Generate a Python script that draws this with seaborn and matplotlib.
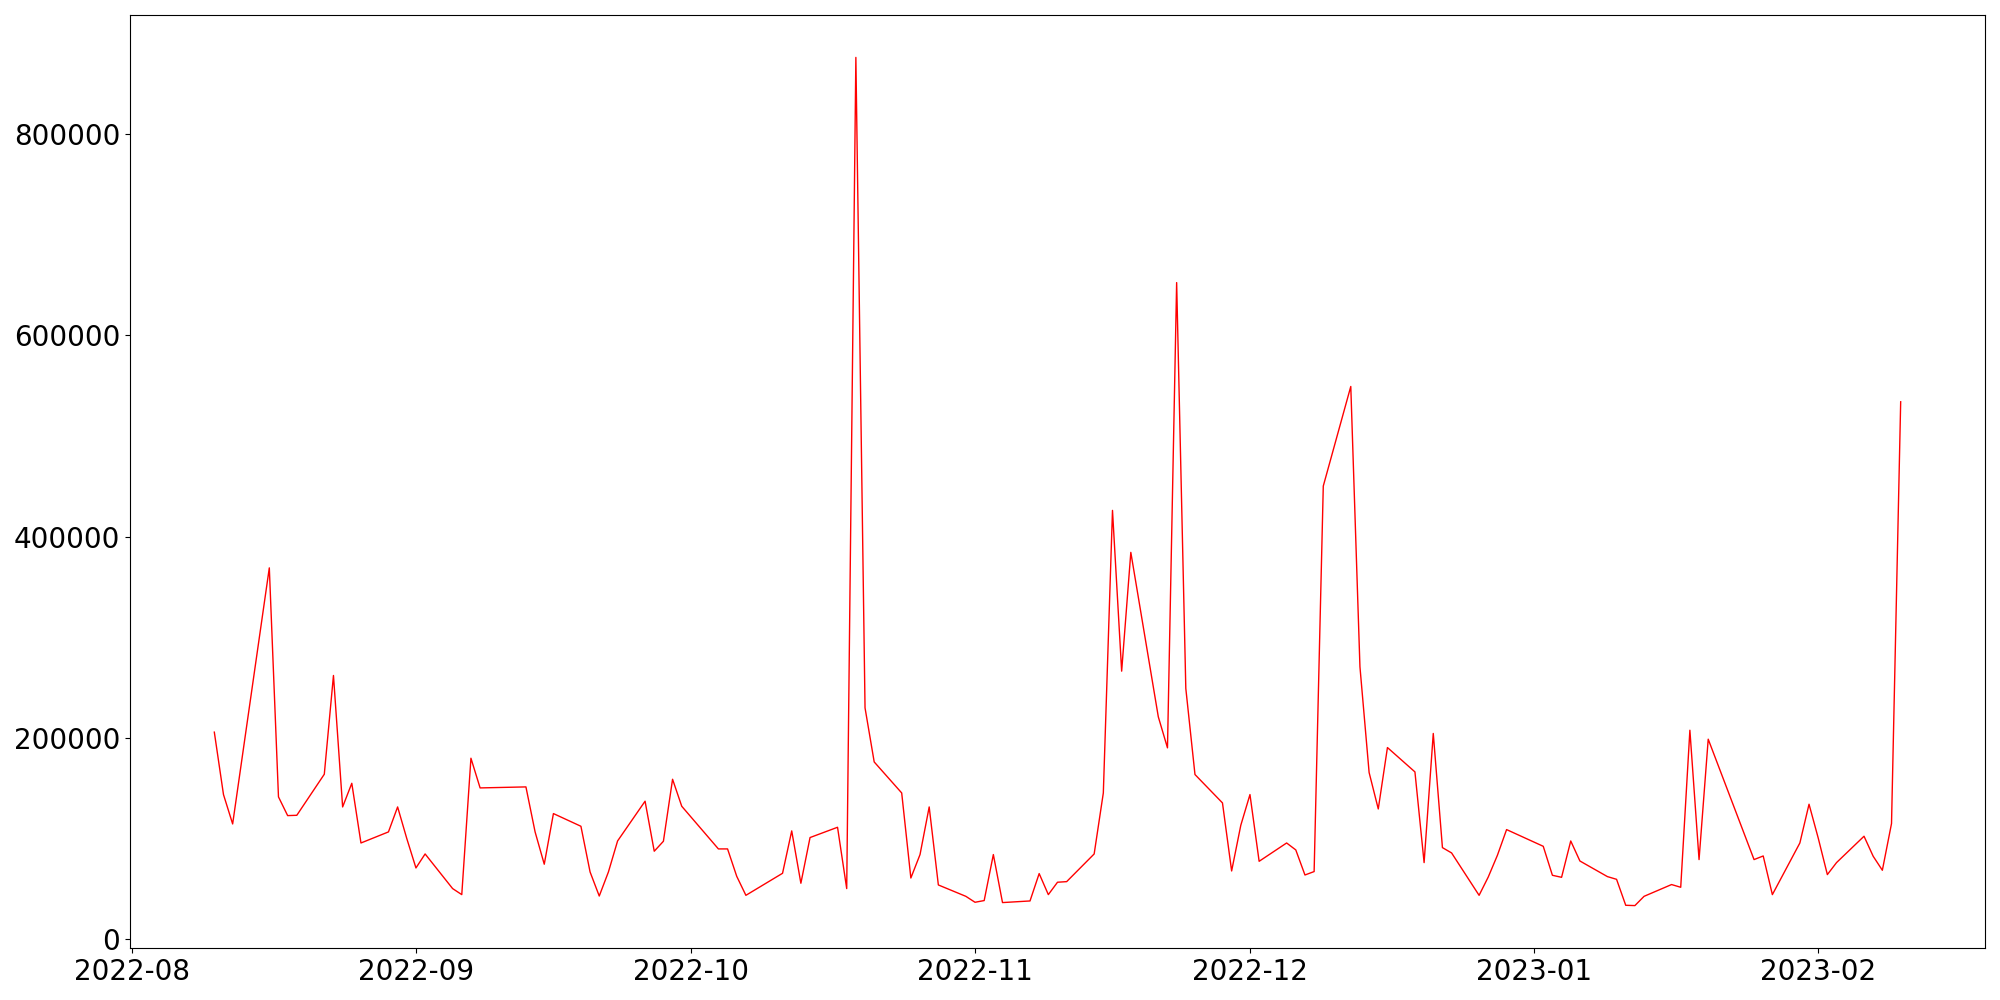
import matplotlib
matplotlib.use("Agg")
import matplotlib.pyplot as plt
import matplotlib.dates as mdates
import seaborn as sns
import pandas as pd

dates = [
    "2022-08-10", "2022-08-11", "2022-08-12", "2022-08-16", "2022-08-17", "2022-08-18", "2022-08-19",
    "2022-08-22", "2022-08-23", "2022-08-24", "2022-08-25", "2022-08-26",
    "2022-08-29", "2022-08-30", "2022-08-31", "2022-09-01", "2022-09-02",
    "2022-09-05", "2022-09-06", "2022-09-07", "2022-09-08",
    "2022-09-13", "2022-09-14", "2022-09-15", "2022-09-16",
    "2022-09-19", "2022-09-20", "2022-09-21", "2022-09-22", "2022-09-23",
    "2022-09-26", "2022-09-27", "2022-09-28", "2022-09-29", "2022-09-30",
    "2022-10-04", "2022-10-05", "2022-10-06", "2022-10-07",
    "2022-10-11", "2022-10-12", "2022-10-13", "2022-10-14",
    "2022-10-17", "2022-10-18", "2022-10-19", "2022-10-20", "2022-10-21",
    "2022-10-24", "2022-10-25", "2022-10-26", "2022-10-27", "2022-10-28",
    "2022-10-31", "2022-11-01", "2022-11-02", "2022-11-03", "2022-11-04",
    "2022-11-07", "2022-11-08", "2022-11-09", "2022-11-10", "2022-11-11",
    "2022-11-14", "2022-11-15", "2022-11-16", "2022-11-17", "2022-11-18",
    "2022-11-21", "2022-11-22", "2022-11-23", "2022-11-24", "2022-11-25",
    "2022-11-28", "2022-11-29", "2022-11-30", "2022-12-01", "2022-12-02",
    "2022-12-05", "2022-12-06", "2022-12-07", "2022-12-08", "2022-12-09",
    "2022-12-12", "2022-12-13", "2022-12-14", "2022-12-15", "2022-12-16",
    "2022-12-19", "2022-12-20", "2022-12-21", "2022-12-22", "2022-12-23",
    "2022-12-26", "2022-12-27", "2022-12-28", "2022-12-29",
    "2023-01-02", "2023-01-03", "2023-01-04", "2023-01-05", "2023-01-06",
    "2023-01-09", "2023-01-10", "2023-01-11", "2023-01-12", "2023-01-13",
    "2023-01-16", "2023-01-17", "2023-01-18", "2023-01-19", "2023-01-20",
    "2023-01-25", "2023-01-26", "2023-01-27",
    "2023-01-30", "2023-01-31", "2023-02-01", "2023-02-02", "2023-02-03",
    "2023-02-06", "2023-02-07", "2023-02-08", "2023-02-09", "2023-02-10",
]

values = [
    205800, 143800, 114600, 369000, 141500, 122900, 123200,
    164000, 262100, 131500, 155000, 95700,
    106700, 131500, 100100, 70900, 84800,
    50400, 44400, 179900, 150400,
    151400, 106700, 74600, 124900,
    112300, 66900, 43000, 66900, 97700,
    137200, 87500, 97400, 159000, 132200,
    89800, 89800, 62600, 43700,
    65600, 107700, 55700, 101100,
    111300, 50400, 876100, 229900, 176200,
    145400, 60900, 84200, 131500, 54000,
    42700, 36800, 38500, 84200, 36500,
    38100, 65300, 44400, 56700, 57300,
    84800, 145400, 426100, 266400, 384400,
    221000, 190200, 652400, 249200, 163700,
    135500, 67900, 113300, 143800, 77500,
    95700, 88800, 63900, 67300, 450300,
    549200, 270700, 165700, 129500, 190500,
    166300, 76200, 204500, 91100, 85800,
    43700, 61900, 83500, 109000,
    92400, 63600, 61600, 97700, 77800,
    62300, 59600, 33800, 33500, 42700,
    54400, 51700, 207700, 79200, 198800,
    79200, 82800, 44400,
    95700, 134200, 100700, 64300, 76200,
    102400, 82500, 68600, 115000, 534000,
]

df = pd.DataFrame({"date": pd.to_datetime(dates), "value": values})

plt.rcParams['font.family'] = ['DejaVu Sans']

fig, ax = plt.subplots(figsize=(20, 10), dpi=100)
sns.lineplot(data=df, x="date", y="value", color="red", linewidth=1.0, ax=ax)

ax.xaxis.set_major_locator(mdates.MonthLocator())
ax.xaxis.set_major_formatter(mdates.DateFormatter("%Y-%m"))
ax.set_xlabel("")
ax.set_ylabel("")
ax.tick_params(axis="both", labelsize=20, colors="black")

fig.subplots_adjust(left=0.065, right=0.9925, top=0.985, bottom=0.052)
fig.savefig("out.png")
